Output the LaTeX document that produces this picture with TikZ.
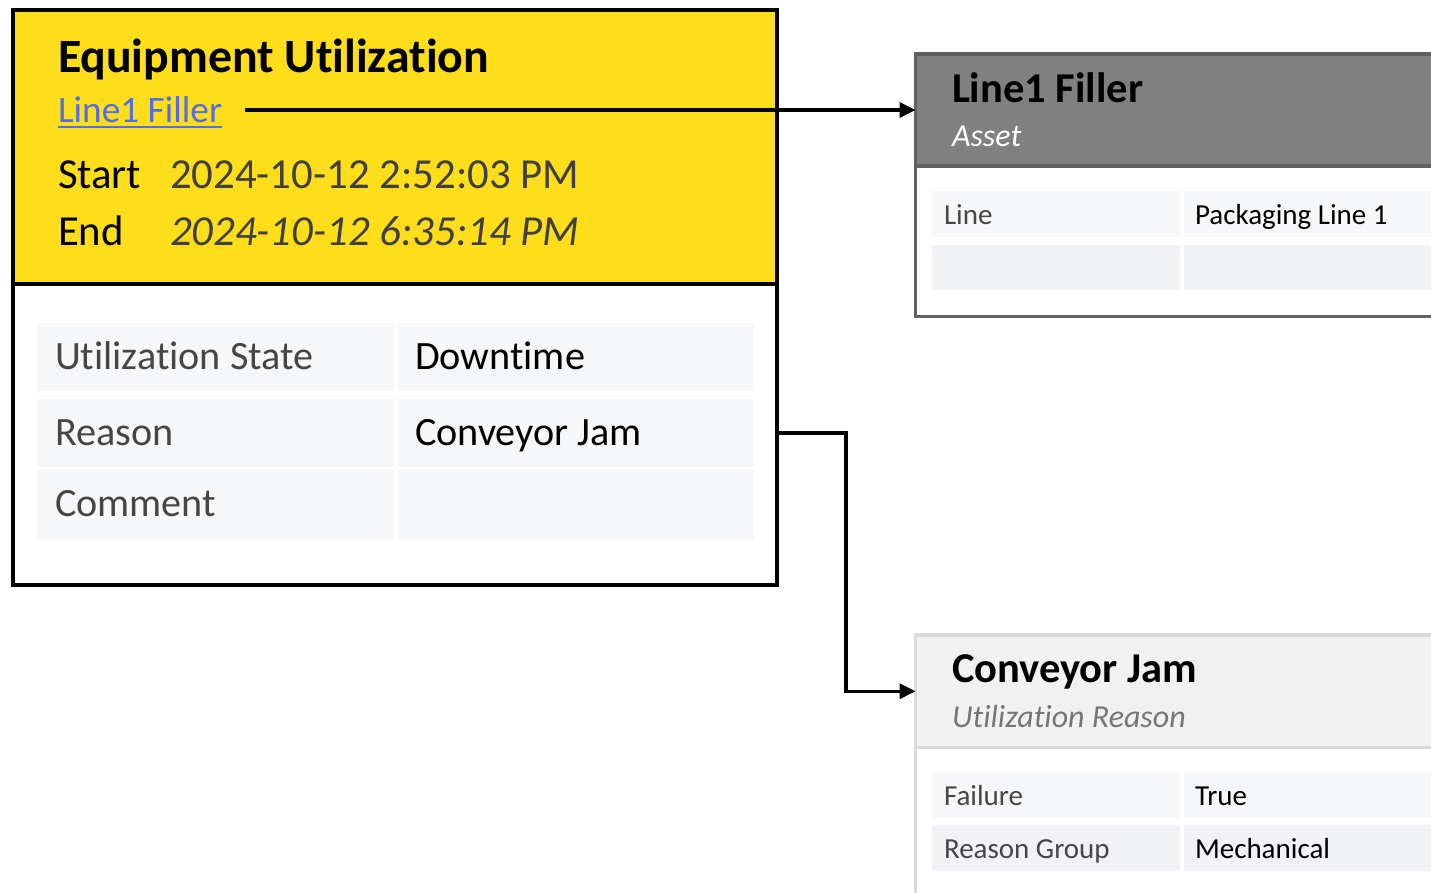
\documentclass[tikz,border=0pt]{standalone}
\usepackage{fontspec}
\setmainfont{Carlito}[Ligatures=NoCommon]
\usepackage{tikz}
\usetikzlibrary{positioning,arrows.meta}

\definecolor{utilyellow}{RGB}{254,221,27}
\definecolor{linkblue}{RGB}{82,110,228}
\definecolor{valgray}{RGB}{64,64,64}
\definecolor{lblgray}{RGB}{70,70,70}
\definecolor{cellgray}{RGB}{246,247,249}
\definecolor{cellblue}{RGB}{240,242,245}
\definecolor{assetgray}{RGB}{128,128,128}
\definecolor{assetborder}{RGB}{96,96,96}
\definecolor{rsnborder}{RGB}{218,218,218}
\definecolor{rsnfill}{RGB}{241,241,241}
\definecolor{subgray}{RGB}{118,118,118}

\newcommand{\fsize}[1]{\fontsize{#1}{#1}\selectfont}

\begin{document}
\begin{tikzpicture}[%
        x=1pt, y=-1pt,
        conn/.style={line width=3.5pt, -{Triangle[length=16pt,width=15pt]}},
        panel/.style={%
          rectangle,
          anchor=north west,
          inner sep=0pt, outer sep=0pt
        },
        cell/.style={panel, fill=cellgray},
        txt/.style={anchor=base west, inner sep=0pt, outer sep=0pt},
        title/.style={txt, font=\bfseries\fsize{47.8}},
        field/.style={txt, font=\fsize{42.8}},
        rowlbl/.style={txt, font=\fsize{40.2}, text=lblgray},
        rowval/.style={txt, font=\fsize{40.2}},
        cardtitle/.style={txt, font=\bfseries\fsize{42.5}},
        cardsub/.style={txt, font=\itshape\fsize{32}},
        smalllbl/.style={txt, font=\fsize{29}, text=lblgray},
        smallval/.style={txt, font=\fsize{29}}
      ]
      \useasboundingbox (0,0) rectangle (1431,892);
      \clip (0,0) rectangle (1431,892);

      % equipment utilization
      \node[panel, draw, line width=4pt, fill=utilyellow, minimum width=764pt, minimum height=274pt] (hdr) at (13,10) {};
      \node[panel, draw, line width=4pt, minimum width=764pt, minimum height=301pt] (body) at (13,284) {};
      \node[title] (ttl) at (58,72) {Equipment Utilization};
      \node[txt, font=\fsize{37.3}, text=linkblue] (link) at (58,122) {Line1 Filler};
      \draw[linkblue, line width=2pt] ([yshift=-5pt]link.base west) -- ([yshift=-5pt]link.base east);
      \coordinate (linkstart) at (245,110);
      \node[field] (startlbl) at (58,188) {Start};
      \node[field, text=valgray] (startval) at (170,188) {2024-10-12 2:52:03 PM};
      \node[field] (endlbl) at (58,245) {End};
      \node[field, text=valgray, font=\itshape\fsize{42.8}] (endval) at (170,245) {2024-10-12 6:35:14 PM};

      \node[cell, minimum width=357pt, minimum height=68pt] (r1l) at (37,323) {};
      \node[cell, minimum width=356pt, minimum height=68pt] (r1r) at (398,323) {};
      \node[cell, minimum width=357pt, minimum height=68pt] (r2l) at (37,399) {};
      \node[cell, minimum width=356pt, minimum height=68pt] (r2r) at (398,399) {};
      \node[cell, minimum width=357pt, minimum height=70pt] (r3l) at (37,470) {};
      \node[cell, minimum width=356pt, minimum height=70pt] (r3r) at (398,470) {};
      \node[rowlbl] at ([shift={(18,12)}]r1l.west) {Utilization State};
      \node[rowval] at ([shift={(17,12)}]r1r.west) {Downtime};
      \node[rowlbl] at ([shift={(18,12)}]r2l.west) {Reason};
      \node[rowval] at ([shift={(17,12)}]r2r.west) {Conveyor Jam};
      \node[rowlbl] at ([shift={(18,11)}]r3l.west) {Comment};

      % asset card
      \node[panel, draw=assetborder, line width=3.5pt, fill=assetgray, minimum width=560pt, minimum height=112pt] (assethdr) at (915.5,54) {};
      \node[panel, draw=assetborder, line width=3.5pt, minimum width=560pt, minimum height=150pt] (asset) at (915.5,166.5) {};
      \node[cardtitle] at (952,102) {Line1 Filler};
      \node[cardsub, text=white] at (952,146) {Asset};
      \node[cell, minimum width=248pt, minimum height=46pt] (a1l) at (932,191) {};
      \node[cell, minimum width=270pt, minimum height=46pt] (a1r) at (1184,191) {};
      \node[cell, fill=cellblue, minimum width=248pt, minimum height=45pt] (a2l) at (932,245) {};
      \node[cell, fill=cellblue, minimum width=270pt, minimum height=45pt] (a2r) at (1184,245) {};
      \node[smalllbl] at ([shift={(12,10)}]a1l.west) {Line};
      \node[smallval] at ([shift={(11,10)}]a1r.west) {Packaging Line 1};

      % reason card
      \node[panel, draw=rsnborder, line width=3.5pt, fill=rsnfill, minimum width=560pt, minimum height=112.5pt] (rsnhdr) at (915.5,635) {};
      \node[panel, draw=rsnborder, line width=3.5pt, minimum width=560pt, minimum height=200pt] (rsn) at (915.5,747.5) {};
      \node[cardtitle] at (952,682) {Conveyor Jam};
      \node[cardsub, text=subgray] at (952,727) {Utilization Reason};
      \node[cell, minimum width=248pt, minimum height=46pt] (f1l) at (932,772) {};
      \node[cell, minimum width=270pt, minimum height=46pt] (f1r) at (1184,772) {};
      \node[cell, fill=cellblue, minimum width=248pt, minimum height=46pt] (f2l) at (932,825) {};
      \node[cell, fill=cellblue, minimum width=270pt, minimum height=46pt] (f2r) at (1184,825) {};
      \node[smalllbl] at ([shift={(12,10)}]f1l.west) {Failure};
      \node[smallval] at ([shift={(11,10)}]f1r.west) {True};
      \node[smalllbl] at ([shift={(12,10)}]f2l.west) {Reason Group};
      \node[smallval] at ([shift={(11,10)}]f2r.west) {Mechanical};

      \draw[conn] (linkstart) -- (assethdr.west);
      \draw[conn] (body.east |- r2r) -- ++(69,0) |- (rsnhdr.west);
  \end{tikzpicture}
\end{document}
